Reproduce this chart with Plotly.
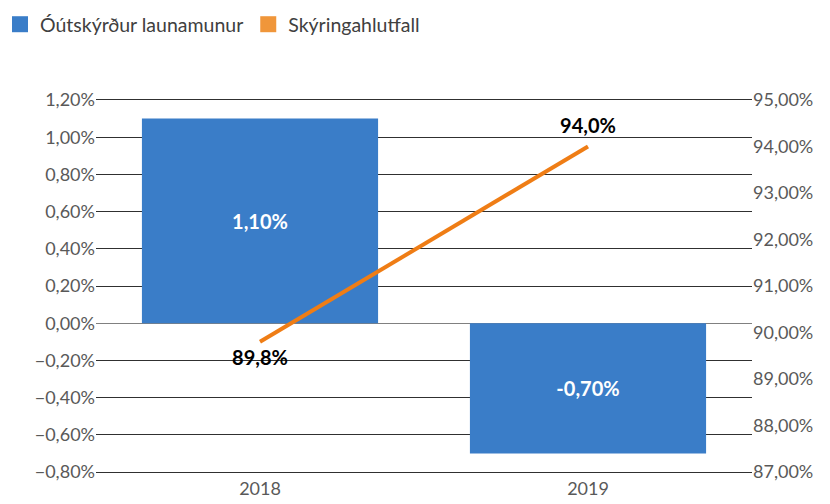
import plotly.graph_objects as go

years = ["2018", "2019"]
unexplained_gap = [0.011, -0.007]       # Óútskýrður launamunur
explained_ratio = [0.898, 0.940]        # Skýringahlutfall

bar_name = "Óútskýrður launamunur"
line_name = "Skýringahlutfall"

BLUE = "#3a7dc8"
ORANGE = "#ef7d15"
LEG_ORANGE = "#f0963a"
FONT = "Lato"

fig = go.Figure()

fig.add_trace(go.Bar(
    x=years, y=unexplained_gap, name=bar_name,
    marker=dict(color=BLUE, line=dict(width=0)),
    texttemplate="%{y:.2%}", textposition="inside", insidetextanchor="middle",
    textfont=dict(color="white", size=20, family=FONT, weight="bold"),
    showlegend=False, yaxis="y",
))

fig.add_trace(go.Scatter(
    x=years, y=explained_ratio, name=line_name, yaxis="y2",
    mode="lines+markers+text", line=dict(color=ORANGE, width=4),
    marker=dict(size=12, color="rgba(0,0,0,0)"),
    texttemplate="%{y:.1%}", textposition=["bottom center", "top center"],
    textfont=dict(color="black", size=20, family=FONT, weight="bold"),
    showlegend=False,
))

# legend entries drawn as squares like the reference
fig.add_trace(go.Scatter(
    x=[None], y=[None], name=bar_name, mode="markers",
    marker=dict(symbol="square", color=BLUE, size=16),
    showlegend=True,
))
fig.add_trace(go.Scatter(
    x=[None], y=[None], name=line_name, mode="markers",
    marker=dict(symbol="square", color=LEG_ORANGE, size=16),
    yaxis="y2", showlegend=True,
))

fig.update_layout(
    width=830, height=504,
    margin=dict(l=96, r=78, t=100, b=32, autoexpand=False),
    paper_bgcolor="white", plot_bgcolor="white",
    separators=",.",
    font=dict(family=FONT, size=18, color="#595959"),
    bargap=0.28,
    legend=dict(orientation="h", xref="container", yref="container",
                x=-0.002, y=0.99, xanchor="left", yanchor="top",
                font=dict(size=19.5, color="#404040"), itemsizing="trace",
                itemwidth=30, traceorder="normal"),
    xaxis=dict(type="category", showgrid=False, ticks="",
               showline=True, mirror=True, linecolor="#303030", linewidth=1,
               tickfont=dict(size=18, color="#595959")),
    yaxis=dict(range=[-0.008, 0.012], dtick=0.002, tickformat=".2%",
               showgrid=True, gridcolor="#303030", gridwidth=1,
               zeroline=True, zerolinecolor="#808080", zerolinewidth=1,
               ticks="", showline=False, automargin=False),
    yaxis2=dict(range=[0.87, 0.95], dtick=0.01, tickformat=".2%",
                overlaying="y", side="right", showgrid=False, zeroline=False,
                ticks="", showline=False, automargin=False),
)

fig.write_html("out.html", config={"displayModeBar": False},
               post_script="document.body.style.margin='0';")
